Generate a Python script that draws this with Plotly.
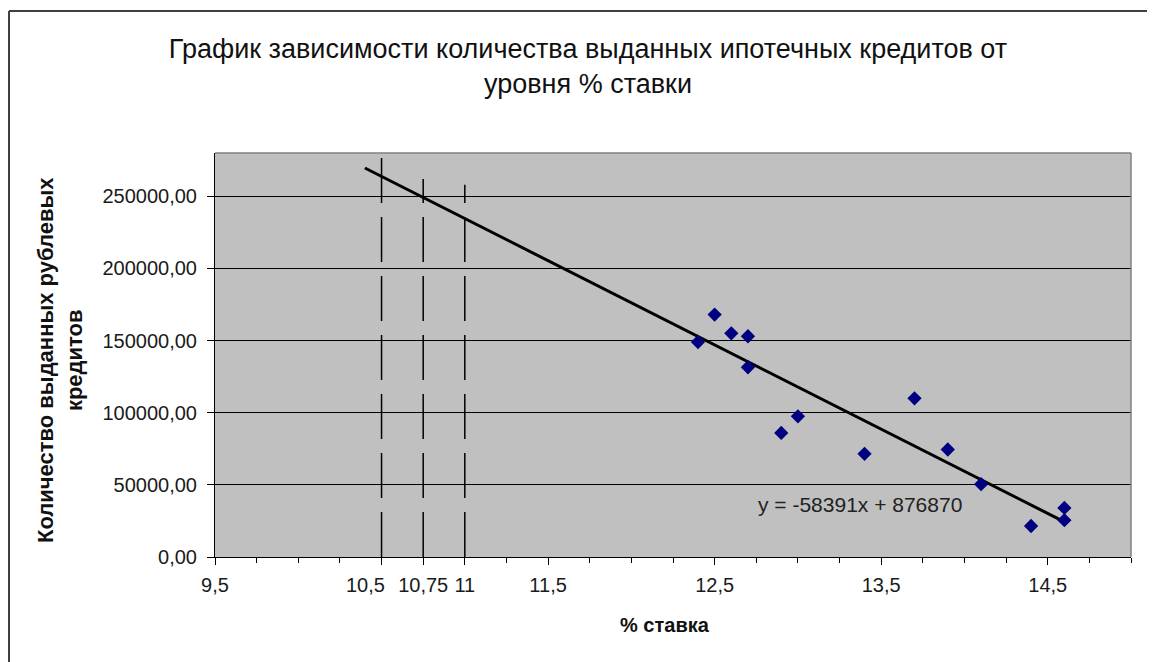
import plotly.graph_objects as go

# ---- data ----
rate = [12.4, 12.5, 12.6, 12.7, 12.7, 12.9, 13.0, 13.4, 13.7, 13.9, 14.1, 14.4, 14.6, 14.6]
credits = [149000, 168000, 155000, 153000, 131500, 86000, 97500, 71500, 110000, 74500, 50500, 21500, 34000, 25500]

trend_slope = -58391
trend_intercept = 876870
trend_x = [10.4, 14.6]

drop_x = [10.5, 10.75, 11.0]
drop_top = [279000, 262000, 258000]

x_tickvals = [9.5, 10.5, 10.75, 11.0, 11.5, 12.5, 13.5, 14.5]
x_ticktext = ["9,5", "", "10,75", "11", "11,5", "12,5", "13,5", "14,5"]
x_extra_label_val = 10.5
x_extra_label_text = "10,5"
y_tickvals = [0, 50000, 100000, 150000, 200000, 250000]
y_ticktext = ["0,00", "50000,00", "100000,00", "150000,00", "200000,00", "250000,00"]

title_text = "График зависимости количества выданных ипотечных кредитов от<br>уровня % ставки"
x_title = "% ставка"
y_title = "Количество выданных рублевых<br>кредитов"
eq_text = "y = -58391x + 876870"

FONT = "Liberation Sans, Arial, sans-serif"
# page body has an 8px margin, so the figure is drawn 8px smaller
W, H = 1147, 654
L, R, T, B = 207, 24, 145, 105

fig = go.Figure()

# dashed vertical lines
for xv, top in zip(drop_x, drop_top):
    fig.add_trace(go.Scatter(
        x=[xv, xv], y=[0, top], mode="lines",
        line=dict(color="black", width=1.5, dash="45px,14px"),
        hoverinfo="skip", showlegend=False))

# trend line
trend_y = [trend_slope * xv + trend_intercept for xv in trend_x]
fig.add_trace(go.Scatter(
    x=trend_x, y=trend_y, mode="lines",
    line=dict(color="black", width=3), showlegend=False))

# data points
fig.add_trace(go.Scatter(
    x=rate, y=credits, mode="markers",
    marker=dict(symbol="diamond", size=11, color="#000080",
                line=dict(width=0)),
    showlegend=False))

pw = W - L - R
ph = H - T - B

fig.update_layout(
    width=W, height=H,
    margin=dict(l=L, r=R, t=T, b=B, pad=0),
    paper_bgcolor="white",
    plot_bgcolor="#C0C0C0",
    font=dict(family=FONT, size=20, color="#1a1a1a"),
    title=dict(text=title_text, x=(588 - 8) / W, xanchor="center",
               y=1 - 50 / H, yanchor="middle",
               font=dict(family=FONT, size=27, color="#111")),
    xaxis=dict(
        range=[9.5, 15.0], tickvals=x_tickvals, ticktext=x_ticktext,
        ticks="outside", ticklen=7, tickwidth=1, tickcolor="black",
        minor=dict(tickmode="linear", tick0=9.5, dtick=0.25,
                   ticks="outside", ticklen=5, tickcolor="black", showgrid=False),
        showgrid=False, zeroline=False,
        showline=True, linecolor="black", linewidth=1,
        tickfont=dict(size=20), tickangle=0, ticklabelstandoff=3,
        automargin=False,
    ),
    yaxis=dict(
        range=[0, 280000], tickvals=y_tickvals, ticktext=y_ticktext,
        ticks="outside", ticklen=7, tickwidth=1, tickcolor="black",
        showgrid=True, gridcolor="black", gridwidth=1,
        zeroline=False, showline=True, linecolor="black", linewidth=1,
        tickfont=dict(size=20), ticklabelstandoff=6, automargin=False,
    ),
    annotations=[
        dict(text=y_title, xref="paper", yref="paper", x=0, y=0.5,
             xanchor="center", yanchor="middle", xshift=52 - L, yshift=-5,
             textangle=-90, showarrow=False,
             font=dict(family=FONT, size=22, color="#111", weight="bold")),
        dict(text=x_title, xref="paper", yref="paper", x=0.5, y=0,
             xanchor="center", yanchor="middle", yshift=-68,
             xshift=-8, showarrow=False,
             font=dict(family=FONT, size=20, color="#111", weight="bold")),
        dict(text=eq_text, xref="x", yref="y", x=13.37, y=36500,
             xanchor="center", yanchor="middle", showarrow=False,
             font=dict(family=FONT, size=21, color="#222")),
        dict(text=x_extra_label_text, xref="x", yref="paper",
             x=x_extra_label_val, y=0, xanchor="center", yanchor="middle",
             xshift=-16, yshift=-(585 - 557), showarrow=False,
             font=dict(family=FONT, size=20, color="#1a1a1a")),
    ],
    shapes=[
        # plot area border (top & right in gray)
        dict(type="line", xref="paper", yref="paper", x0=0, x1=1, y0=1, y1=1,
             line=dict(color="#808080", width=1.5)),
        dict(type="line", xref="paper", yref="paper", x0=1, x1=1, y0=0, y1=1,
             line=dict(color="#808080", width=1.5)),
        # outer chart frame (left and top visible)
        dict(type="line", xref="paper", yref="paper",
             x0=(1 - L) / pw, x1=(1 - L) / pw, y0=(H - B - 3) / ph, y1=(H - B - 700) / ph,
             line=dict(color="#404040", width=2)),
        dict(type="line", xref="paper", yref="paper",
             x0=(1 - L) / pw, x1=(1200 - L) / pw, y0=(H - B - 3) / ph, y1=(H - B - 3) / ph,
             line=dict(color="#404040", width=2)),
    ],
)

fig.write_html("out.html")
